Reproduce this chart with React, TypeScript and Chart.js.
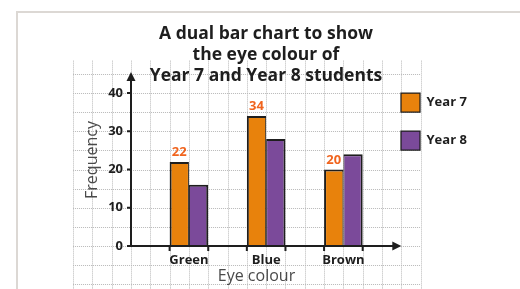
import React, { useEffect, useRef } from 'react';
import { Chart, registerables } from 'chart.js';

Chart.register(...registerables);

// ---- data ----
const titleLines = ['A dual bar chart to show', 'the eye colour of', 'Year 7 and Year 8 students'];
const categories = ['Green', 'Blue', 'Brown'];
const seriesNames = ['Year 7', 'Year 8'];
const year7 = [22, 34, 20];
const year8 = [16, 28, 24];
const yTicks = [0, 10, 20, 30, 40];
const xAxisTitle = 'Eye colour';
const yAxisTitle = 'Frequency';

// ---- style ----
const FONT = '"Open Sans", "DejaVu Sans", sans-serif';
const INK = '#1e1e1e';
const ORANGE = '#e8820c';
const PURPLE = '#7b4a9a';
const LABEL_ORANGE = '#f0641e';
const GRID = '#b8b8b8';

const decor = {
  id: 'decor',
  beforeDraw(chart: any) {
    const { ctx, scales } = chart;
    const x = scales.x;
    const y = scales.y;
    ctx.save();
    ctx.fillStyle = '#ffffff';
    ctx.fillRect(0, 0, chart.width, chart.height);
    // frame
    ctx.strokeStyle = '#dcd8d4';
    ctx.lineWidth = 2;
    ctx.strokeRect(17, 12, chart.width + 20, chart.height + 20);
    // dotted background grid
    ctx.strokeStyle = GRID;
    ctx.lineWidth = 1;
    ctx.setLineDash([1, 1]);
    const gx0 = x.getPixelForValue(-1.5);
    const gx1 = x.getPixelForValue(3);
    const gyTop = y.getPixelForValue(48.5);
    for (let k = 0; k <= 18; k++) {
      const px = Math.round(x.getPixelForValue(-1.5 + k * 0.25)) + 0.5;
      ctx.beginPath();
      ctx.moveTo(px, gyTop);
      ctx.lineTo(px, chart.height);
      ctx.stroke();
    }
    for (let v = 45; v >= -10; v -= 5) {
      const py = Math.round(y.getPixelForValue(v)) + 0.5;
      ctx.beginPath();
      ctx.moveTo(gx0, py);
      ctx.lineTo(gx1, py);
      ctx.stroke();
    }
    ctx.restore();
  },
  afterDatasetsDraw(chart: any) {
    const { ctx, scales, chartArea } = chart;
    const x = scales.x;
    const y = scales.y;
    const ax = chartArea.left;
    const ay = y.getPixelForValue(0);
    const yTip = y.getPixelForValue(45.5);
    const xTip = x.getPixelForValue(2.75);
    ctx.save();
    ctx.strokeStyle = INK;
    ctx.fillStyle = INK;
    ctx.lineWidth = 2;
    // axes
    ctx.beginPath();
    ctx.moveTo(ax, ay + 1);
    ctx.lineTo(ax, yTip + 6);
    ctx.moveTo(ax - 1, ay);
    ctx.lineTo(xTip - 6, ay);
    ctx.stroke();
    // arrowheads
    ctx.beginPath();
    ctx.moveTo(ax, yTip);
    ctx.lineTo(ax - 4.5, yTip + 9);
    ctx.lineTo(ax + 4.5, yTip + 9);
    ctx.closePath();
    ctx.fill();
    ctx.beginPath();
    ctx.moveTo(xTip, ay);
    ctx.lineTo(xTip - 9, ay - 4.5);
    ctx.lineTo(xTip - 9, ay + 4.5);
    ctx.closePath();
    ctx.fill();
    // y tick marks
    ctx.beginPath();
    yTicks.forEach((v) => {
      const py = y.getPixelForValue(v);
      ctx.moveTo(ax - 4, py);
      ctx.lineTo(ax, py);
    });
    // x tick marks at the edges of each bar pair
    categories.forEach((_, i) => {
      [i - 0.25, i + 0.25].forEach((v) => {
        const px = x.getPixelForValue(v);
        ctx.moveTo(px, ay);
        ctx.lineTo(px, ay + 5);
      });
    });
    ctx.stroke();
    ctx.restore();
  },
  afterDraw(chart: any) {
    const { ctx } = chart;
    ctx.save();
    // title
    ctx.fillStyle = INK;
    ctx.font = `bold 17.5px ${FONT}`;
    ctx.textAlign = 'center';
    ctx.textBaseline = 'alphabetic';
    const cx = 266;
    titleLines.forEach((line, i) => {
      ctx.fillText(line, cx, 39 + i * 21);
    });
    // value labels on Year 7 bars
    ctx.fillStyle = LABEL_ORANGE;
    ctx.font = `bold 13px ${FONT}`;
    ctx.textBaseline = 'middle';
    const meta = chart.getDatasetMeta(0);
    meta.data.forEach((bar: any, i: number) => {
      ctx.fillText(String(year7[i]), bar.x, bar.y - 9.5);
    });
    ctx.restore();
  },
};

export default function App() {
  const ref = useRef<HTMLCanvasElement>(null);
  useEffect(() => {
    document.body.style.margin = '0';
    const chart = new Chart(ref.current as HTMLCanvasElement, {
      type: 'bar',
      data: {
        datasets: [
          {
            label: seriesNames[0],
            data: year7.map((v, i) => ({ x: i, y: v })),
            backgroundColor: ORANGE,
            borderColor: INK,
            borderWidth: { top: 2, left: 2, right: 1, bottom: 0 },
            categoryPercentage: 0.5,
            barPercentage: 1,
          },
          {
            label: seriesNames[1],
            data: year8.map((v, i) => ({ x: i, y: v })),
            backgroundColor: PURPLE,
            borderColor: INK,
            borderWidth: { top: 2, left: 1, right: 2, bottom: 0 },
            categoryPercentage: 0.5,
            barPercentage: 1,
          },
        ],
      },
      options: {
        animation: false,
        responsive: true,
        maintainAspectRatio: false,
        events: [],
        layout: { padding: { top: 74, left: 16, right: 48, bottom: 0 } },
        scales: {
          x: {
            type: 'linear',
            min: -0.75,
            max: 2.5,
            offset: false,
            grid: { display: false, drawTicks: false, offset: false },
            border: { display: false },
            afterBuildTicks: (scale: any) => {
              scale.ticks = categories.map((_, i) => ({ value: i }));
            },
            afterFit: (scale: any) => {
              scale.height = 43;
            },
            ticks: {
              autoSkip: false,
              maxRotation: 0,
              padding: 6,
              color: INK,
              font: { family: FONT, size: 13, weight: 'bold' },
              callback: (v: any) => categories[Math.round(Number(v))] ?? '',
            },
            title: {
              display: true,
              text: xAxisTitle,
              color: '#4a4a4a',
              font: { family: FONT, size: 16 },
              padding: { top: 0, bottom: 3.4 },
            },
          },
          y: {
            min: 0,
            max: 45,
            grid: { display: false, drawTicks: true, tickLength: 4 },
            border: { display: false },
            afterBuildTicks: (scale: any) => {
              scale.ticks = yTicks.map((v) => ({ value: v }));
            },
            afterFit: (scale: any) => {
              scale.width = 115;
            },
            ticks: {
              padding: 4,
              color: INK,
              font: { family: FONT, size: 13, weight: 'bold' },
            },
            title: {
              display: true,
              text: yAxisTitle,
              color: '#4a4a4a',
              font: { family: FONT, size: 16 },
              padding: { top: 66.4, bottom: 0 },
            },
          },
        },
        plugins: {
          legend: {
            position: 'right',
            align: 'start',
            fullSize: false,
            maxWidth: 90,
            labels: {
              boxWidth: 19,
              boxHeight: 19,
              padding: 19,
              color: INK,
              font: { family: FONT, size: 13, weight: 'bold' },
            },
          },
          title: { display: false },
          tooltip: { enabled: false },
        },
      },
      plugins: [decor],
    } as any);
    return () => chart.destroy();
  }, []);
  return (
    <div style={{ width: 520, height: 289, position: 'relative' }}>
      <canvas ref={ref} />
    </div>
  );
}
